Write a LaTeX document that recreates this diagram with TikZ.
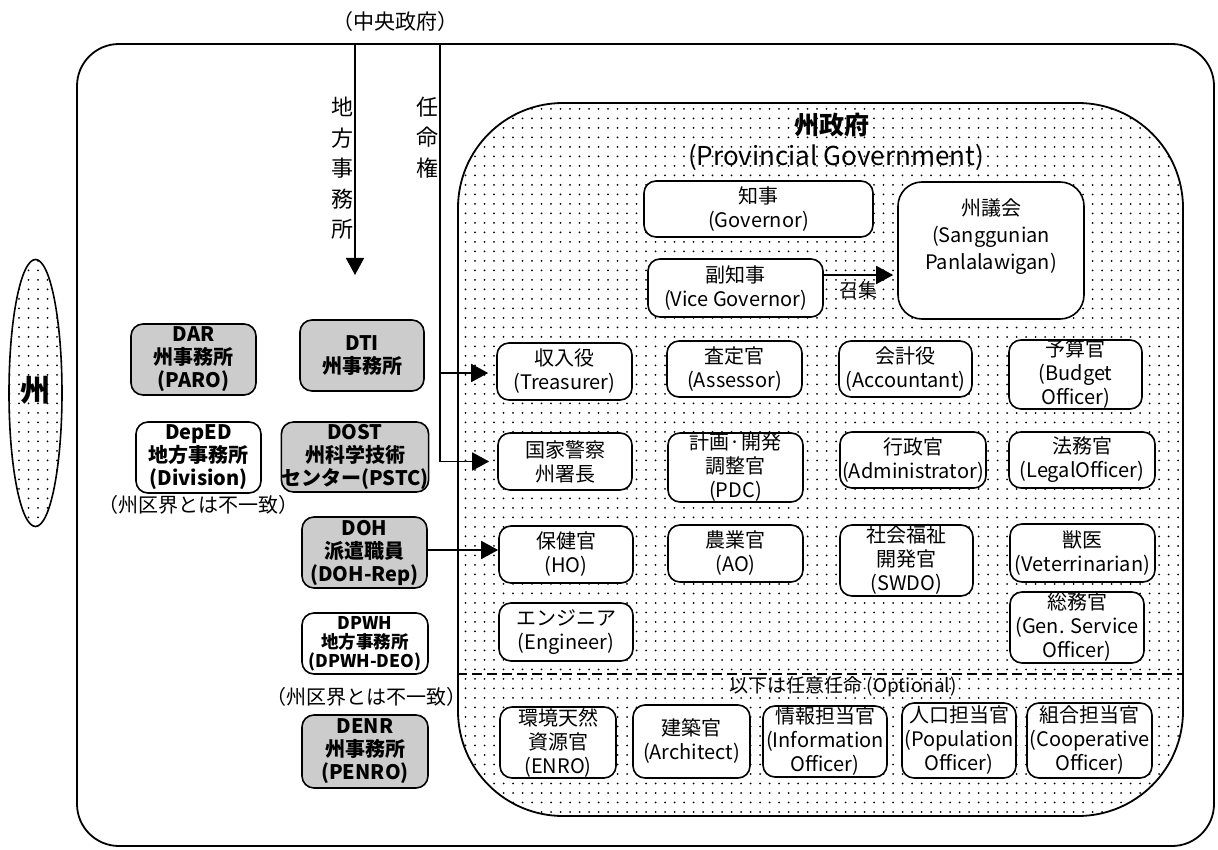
\documentclass[tikz,border=0pt]{standalone}
\usepackage{fontspec}
\setmainfont{Noto Sans CJK JP}
\usetikzlibrary{arrows.meta,patterns.meta,shapes.geometric}
\begin{document}
\begin{tikzpicture}[x=1pt,y=-1pt,
  every node/.style={inner sep=0pt},
  bx/.style={draw, line width=1.6pt, rounded corners=12pt, fill=white, align=center, font=\fontsize{20}{24}\selectfont},
  gbx/.style={bx, fill=black!20, font=\bfseries\fontsize{20}{23}\selectfont},
  wbx/.style={bx, font=\bfseries\fontsize{20}{23}\selectfont},
  arr/.style={line width=1.6pt, -{Triangle[length=17pt,width=18pt]}},
  dotfill/.style={postaction={pattern={Dots[distance=9.5pt,radius=1pt]}, pattern color=black}},
  lbl/.style={align=center, font=\fontsize{20}{24}\selectfont},
]
\useasboundingbox (0,0) rectangle (1218,850);

% outer frame
\node[draw, line width=1.8pt, rounded corners=42pt, minimum width=1137pt, minimum height=802pt] (frame) at (645.5,445) {};
% provincial government
\node[draw, line width=1.8pt, rounded corners=105pt, minimum width=725pt, minimum height=713pt, fill=white, dotfill] (pg) at (820.5,459.5) {};
\draw[line width=1.4pt, dash pattern=on 10pt off 5pt] (pg.west |- 0,674) -- (pg.east |- 0,674);

% province ellipse
\node[ellipse, draw, line width=1.6pt, minimum width=53pt, minimum height=267pt, fill=white, dotfill] (shu) at (35.5,393) {};
\node[font=\bfseries\fontsize{30}{30}\selectfont] (shul) at (35.5,390) {州};

% central government
\node[font=\fontsize{21}{21}\selectfont] (cg) at (395,22) {（中央政府）};
\coordinate (top1) at (355,44);
\coordinate (tip1) at (355,275);
\coordinate (top2) at (440,44);
\node[align=center, font=\fontsize{22}{30.5}\selectfont] (lo) at (342,168.5) {地\\方\\事\\務\\所};
\node[align=center, font=\fontsize{22}{30.5}\selectfont] (ap) at (427,137.5) {任\\命\\権};

% titles
\node[font=\bfseries\fontsize{25}{25}\selectfont] (t1) at (832,125) {州政府};
\node[font=\fontsize{26}{26}\selectfont] (t2) at (836,157) {(Provincial Government)};

% governor etc.
\node[bx, minimum width=229pt, minimum height=56pt] (gov) at (758.5,209) {知事\\(Governor)};
\node[bx, minimum width=175pt, minimum height=58pt] (vgov) at (735.5,288) {副知事\\(Vice Governor)};
\node[bx, rounded corners=24pt, minimum width=186pt, minimum height=137pt, font=\fontsize{20}{27}\selectfont] (sp) at (991,250.5) {州議会\\(Sanggunian\\Panlalawigan)\\[6pt]};

% officers
\node[bx, minimum width=135pt, minimum height=57pt] (tre) at (564.5,371.5) {収入役\\(Treasurer)};
\node[bx, minimum width=135pt, minimum height=56pt] (ass) at (734.5,369) {査定官\\(Assessor)};
\node[bx, minimum width=133pt, minimum height=56pt] (acc) at (905.5,369) {会計役\\(Accountant)};
\node[bx, minimum width=133pt, minimum height=69pt] (bud) at (1075.5,374.5) {予算官\\(Budget\\Officer)};

\node[bx, minimum width=134pt, minimum height=57pt] (pol) at (565,461.5) {国家警察\\州署長};
\node[bx, minimum width=135pt, minimum height=69pt] (pdc) at (735.5,467.5) {計画·開発\\調整官\\(PDC)};
\node[bx, minimum width=146pt, minimum height=56pt] (adm) at (913,460) {行政官\\(Administrator)};
\node[bx, minimum width=146pt, minimum height=56pt] (leg) at (1082,460) {法務官\\(LegalOfficer)};

\node[bx, minimum width=134pt, minimum height=57pt] (ho) at (566,554.5) {保健官\\(HO)};
\node[bx, minimum width=135pt, minimum height=57pt] (ao) at (735.5,553.5) {農業官\\(AO)};
\node[bx, minimum width=133pt, minimum height=71pt] (swdo) at (906.5,560.5) {社会福祉\\開発官\\(SWDO)};
\node[bx, minimum width=145pt, minimum height=58pt] (vet) at (1082.5,553) {獣医\\(Veterrinarian)};

\node[bx, minimum width=134pt, minimum height=58pt] (eng) at (566,632) {エンジニア\\(Engineer)};
\node[bx, minimum width=134pt, minimum height=71pt] (gso) at (1077,627.5) {総務官\\(Gen. Service\\Officer)};

\node[font=\fontsize{19}{19}\selectfont] (opt) at (843,687) {以下は任意任命 (Optional)};

\node[bx, minimum width=116pt, minimum height=71pt] (enro) at (558,742.5) {環境天然\\資源官\\(ENRO)};
\node[bx, minimum width=117pt, minimum height=73pt] (arc) at (691.5,741.5) {建築官\\(Architect)};
\node[bx, minimum width=124pt, minimum height=71pt] (inf) at (825,741.5) {情報担当官\\(Information\\Officer)};
\node[bx, minimum width=114pt, minimum height=75pt] (pop) at (959,740.5) {人口担当官\\(Population\\Officer)};
\node[bx, minimum width=125pt, minimum height=75pt] (coop) at (1089.5,740.5) {組合担当官\\(Cooperative\\Officer)};

% national line agencies
\node[gbx, minimum width=125pt, minimum height=71pt] (dar) at (193.5,359.5) {DAR\\州事務所\\(PARO)};
\node[gbx, minimum width=124pt, minimum height=71pt] (dti) at (362,355.5) {DTI\\州事務所};
\node[wbx, minimum width=125pt, minimum height=71pt] (deped) at (198.5,457.5) {DepED\\地方事務所\\(Division)};
\node[lbl] (n1) at (198,505) {（州区界とは不一致）};
\node[gbx, minimum width=142pt, minimum height=70pt] (dost) at (355,457) {DOST\\州科学技術\\センター(PSTC)};
\node[gbx, minimum width=125pt, minimum height=71pt] (doh) at (364.5,552.5) {DOH\\派遣職員\\(DOH-Rep)};
\node[wbx, minimum width=126pt, minimum height=61pt, font=\bfseries\fontsize{17.5}{19}\selectfont] (dpwh) at (365,643.5) {DPWH\\地方事務所\\(DPWH-DEO)};
\node[lbl] (n2) at (366,697) {（州区界とは不一致）};
\node[gbx, minimum width=126pt, minimum height=73pt] (denr) at (365,751.5) {DENR\\州事務所\\(PENRO)};

% connectors
\draw[arr] (top1) -- (tip1);
\draw[line width=1.6pt] (top2) -- (top2 |- pol.west);
\draw[arr, shorten >=8pt] (top2 |- 0,373) -- (tre.west |- 0,373);
\draw[arr, shorten >=8pt] (top2 |- pol.west) -- (pol.west);
\draw[arr] (doh.east |- 0,550) -- (ho.west |- 0,550);
\draw[arr, shorten >=4pt] (vgov.east |- 0,275) -- (sp.west |- 0,275);
\node[font=\fontsize{19}{19}\selectfont] (call) at (858,290) {召集};

\end{tikzpicture}
\end{document}
